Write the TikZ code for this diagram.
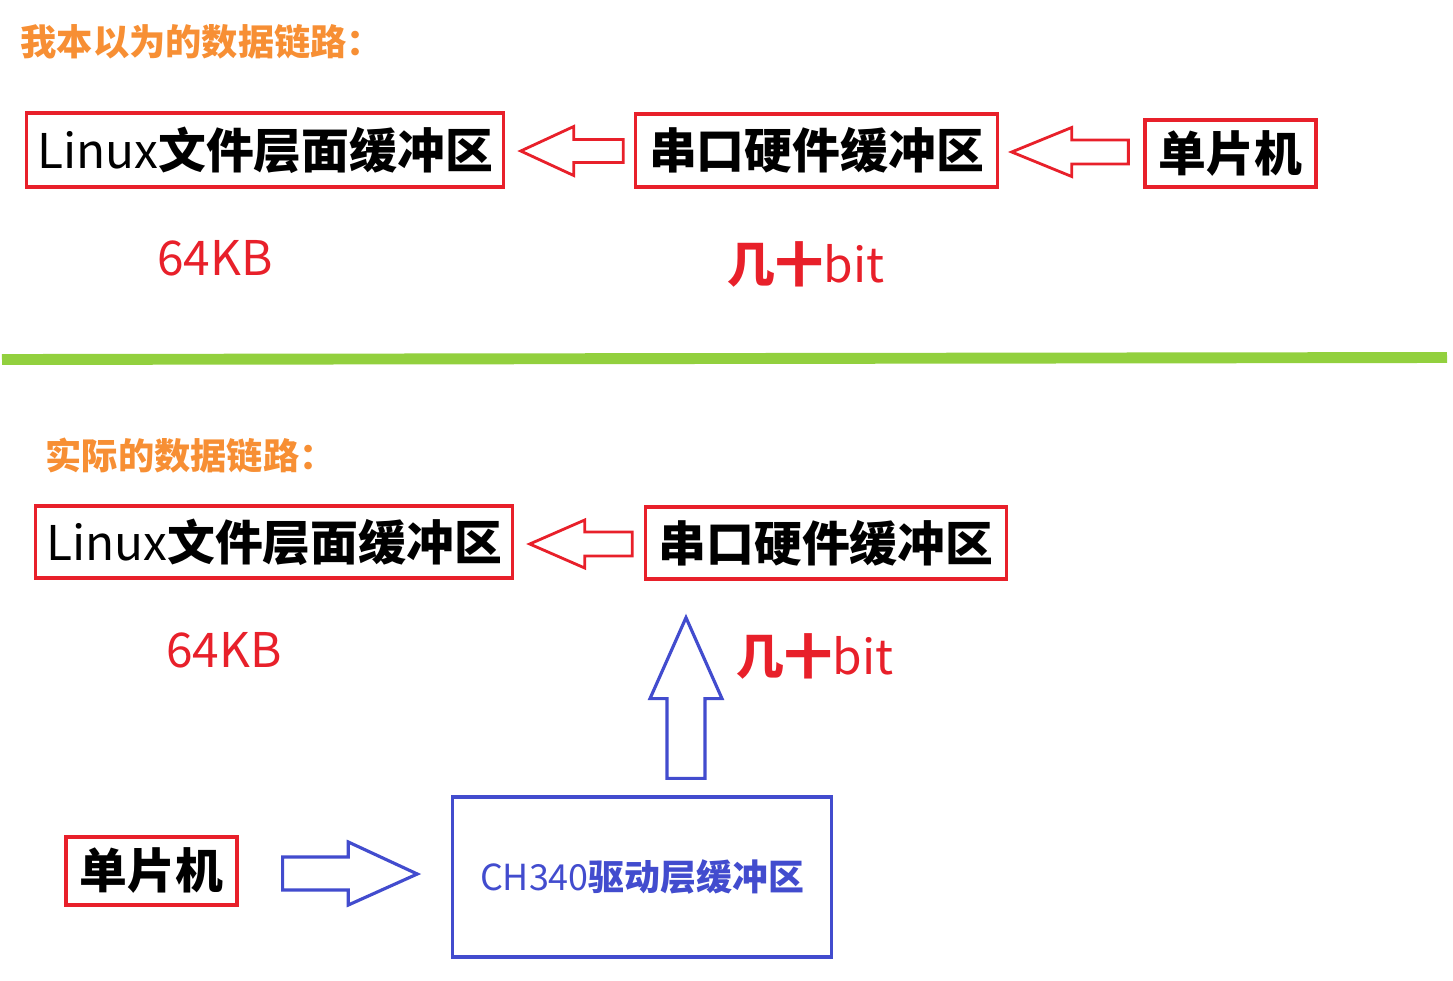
\documentclass[tikz,border=0pt]{standalone}
\usepackage{fontspec}
\setmainfont{Noto Sans CJK SC}
\usetikzlibrary{calc}

\definecolor{boxred}{RGB}{232,32,42}
\definecolor{titleorange}{RGB}{247,143,52}
\definecolor{linegreen}{RGB}{146,208,62}
\definecolor{drvblue}{RGB}{66,76,206}

\tikzset{
  redbox/.style={draw=boxred, line width=0.9pt, inner sep=0pt, font=\fontsize{13.6}{16}\selectfont},
  bluebox/.style={draw=drvblue, line width=0.9pt, inner sep=0pt, text=drvblue, font=\fontsize{10.2}{12}\selectfont},
  redarrow/.style={draw=boxred, line width=0.8pt},
  bluearrow/.style={draw=drvblue, line width=0.9pt},
  heading/.style={anchor=west, inner sep=0pt, text=titleorange, font=\fontsize{10.3}{12}\selectfont\bfseries},
  sizelabel/.style={inner sep=0pt, text=boxred, font=\fontsize{13.6}{16}\selectfont},
}

\begin{document}
\begin{tikzpicture}[x=0.01cm, y=-0.01cm]
	\useasboundingbox (0,0) rectangle (1453,981);

	% what I thought the data path was
	\node[heading] (title1) at (20,42) {我本以为的数据链路：};
	\node[redbox, minimum width=4.76cm, minimum height=0.74cm] (linux1) at (265,150) {Linux\textbf{文件层面缓冲区}};
	\node[redbox, minimum width=3.61cm, minimum height=0.73cm] (uart1) at (816.5,150.5) {\textbf{串口硬件缓冲区}};
	\node[redbox, minimum width=1.71cm, minimum height=0.67cm] (mcu1) at (1230.5,153.5) {\textbf{单片机}};
	\node[sizelabel] (kb1) at (215,258) {64KB};
	\node[sizelabel] (bit1) at (806,264) {\textbf{几十}bit};

	\draw[redarrow] ($(linux1.east)+(16,1)$) coordinate (t1) -- ++(53,-24.5) -- ++(0,13)
		-| ($(uart1.west)+(-11,12)$) -- ($(t1)+(53,11.5)$) -- ++(0,13) -- cycle;
	\draw[redarrow] ($(uart1.east)+(13,1.5)$) coordinate (t2) -- ++(60,-24.5) -- ++(0,12.5)
		-| ($(mcu1.west)+(-15,10.5)$) -- ($(t2)+(60,12)$) -- ++(0,12.5) -- cycle;

	% separator
	\draw[linegreen, line width=3.1pt] (2,359.5) -- (1447,357.5);

	% the real data path
	\node[heading] (title2) at (45,456) {实际的数据链路：};
	\node[redbox, minimum width=4.76cm, minimum height=0.72cm] (linux2) at (274,542) {Linux\textbf{文件层面缓冲区}};
	\node[redbox, minimum width=3.60cm, minimum height=0.72cm] (uart2) at (826,543) {\textbf{串口硬件缓冲区}};
	\node[sizelabel] (kb2) at (224,650) {64KB};
	\node[sizelabel] (bit2) at (815,656) {\textbf{几十}bit};
	\node[bluebox, minimum width=3.78cm, minimum height=1.60cm] (ch340) at (642,877) {CH340\textbf{驱动层缓冲区}};
	\node[redbox, minimum width=1.71cm, minimum height=0.68cm] (mcu2) at (151.5,871) {\textbf{单片机}};

	\draw[redarrow] ($(linux2.east)+(16,2)$) coordinate (t3) -- ++(55,-24) -- ++(0,12)
		-| ($(uart2.west)+(-12,13)$) -- ($(t3)+(55,12)$) -- ++(0,12) -- cycle;
	\draw[bluearrow] ($(uart2.south -| ch340.north)+(44,37)$) coordinate (t4) -- ++(-36,81) -- ++(17,0)
		-- ($(ch340.north)+(25,-17)$) -- ++(38,0) -- ($(t4)+(19,81)$) -- ++(17,0) -- cycle;
	\draw[bluearrow] ($(ch340.west)+(-34,-3)$) coordinate (t5) -- ++(-69,-32) -- ++(0,15)
		-| ($(mcu2.east)+(44,19)$) -- ($(t5)+(-69,16)$) -- ++(0,15) -- cycle;
\end{tikzpicture}
\end{document}
